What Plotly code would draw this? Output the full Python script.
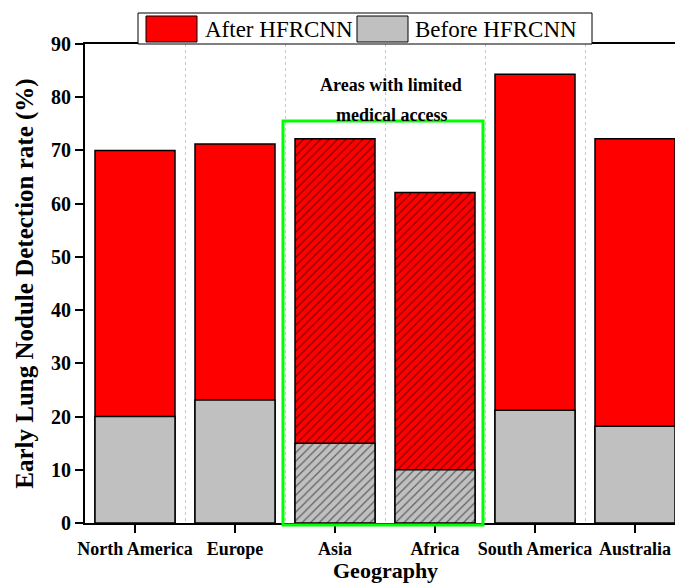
import plotly.graph_objects as go

categories = ["North America", "Europe", "Asia", "Africa", "South America", "Australia"]
after_vals = [70.0, 71.2, 72.2, 62.1, 84.3, 72.2]
before_vals = [20.0, 23.1, 15.0, 10.0, 21.2, 18.2]
hatch = ["", "", "/", "/", "", ""]
series_names = ["After HFRCNN", "Before HFRCNN"]
series_colors = ["#ff0000", "#c0c0c0"]
y_ticks = [0, 10, 20, 30, 40, 50, 60, 70, 80, 90]

W, H = 675, 585
ML, MR, MT, MB = 85, 0, 44, 62
PW, PH = W - ML - MR, H - MT - MB

def px_x(x):
    return (x - ML) / PW

def px_y(y):
    return (H - MB - y) / PH

xpos = list(range(len(categories)))
FONT = "Liberation Serif"

fig = go.Figure()
for name, vals, col in [(series_names[0], after_vals, series_colors[0]),
                        (series_names[1], before_vals, series_colors[1])]:
    fig.add_trace(go.Bar(
        x=xpos, y=vals, name=name, width=0.8,
        marker=dict(color=col, line=dict(color="black", width=1.5),
                    pattern=dict(shape=hatch, fgcolor="black", size=6, solidity=0.2)),
        showlegend=False,
    ))

shapes = []
annotations = []
# green highlight box
shapes.append(dict(type="rect", xref="paper", yref="paper",
                   x0=px_x(283), x1=px_x(483), y0=px_y(525), y1=px_y(121),
                   line=dict(color="#00ff00", width=3), fillcolor="rgba(0,0,0,0)", layer="above"))
annotations.append(dict(xref="paper", yref="paper", x=px_x(391), y=px_y(85), text="<b>Areas with limited</b>",
                        showarrow=False, xanchor="center", yanchor="middle",
                        font=dict(family=FONT, size=18, color="black")))
annotations.append(dict(xref="paper", yref="paper", x=px_x(391), y=px_y(115), text="<b>medical access</b>",
                        showarrow=False, xanchor="center", yanchor="middle",
                        font=dict(family=FONT, size=18, color="black")))

# x-axis title
annotations.append(dict(xref="paper", yref="paper", x=px_x(385), y=px_y(585), text="<b>Geography</b>",
                        showarrow=False, xanchor="center", yanchor="bottom",
                        font=dict(family=FONT, size=22, color="black")))

# custom legend
shapes.append(dict(type="rect", xref="paper", yref="paper",
                   x0=px_x(138), x1=px_x(592), y0=px_y(44), y1=px_y(13),
                   line=dict(color="black", width=1), fillcolor="white", layer="above"))
sw = [(146, 197), (357, 408)]
tx = [203, 413]
for i in range(2):
    shapes.append(dict(type="rect", xref="paper", yref="paper",
                       x0=px_x(sw[i][0]), x1=px_x(sw[i][1]), y0=px_y(42), y1=px_y(16),
                       line=dict(color="black", width=1), fillcolor=series_colors[i], layer="above"))
    annotations.append(dict(xref="paper", yref="paper", x=px_x(tx[i]), y=px_y(29), text=series_names[i],
                            showarrow=False, xanchor="left", yanchor="middle",
                            font=dict(family=FONT, size=23, color="black")))

fig.update_layout(
    width=W, height=H,
    margin=dict(l=ML, r=MR, t=MT, b=MB, pad=0),
    paper_bgcolor="white", plot_bgcolor="white",
    barmode="overlay",
    showlegend=False,
    font=dict(family=FONT, color="black"),
    shapes=shapes, annotations=annotations,
    xaxis=dict(
        range=[-0.5, 5.4], tickvals=xpos, ticktext=categories,
        tickfont=dict(family=FONT, size=18, weight="bold", color="black"),
        ticks="outside", ticklen=8, tickwidth=1.5, tickcolor="black",
        showline=True, linecolor="black", linewidth=2, mirror=True,
        showgrid=False, zeroline=False,
        minor=dict(tick0=0.5, dtick=1, showgrid=True, gridcolor="#c8c8c8",
                   griddash="dot", gridwidth=1, ticks=""),
    ),
    yaxis=dict(
        range=[0, 90], tickvals=y_ticks,
        tickfont=dict(family=FONT, size=20, weight="bold", color="black"),
        ticks="outside", ticklen=8, tickwidth=1.5, tickcolor="black",
        showline=True, linecolor="black", linewidth=2,
        showgrid=False, zeroline=False,
        title=dict(text="<b>Early Lung Nodule Detection rate (%)</b>",
                   font=dict(family=FONT, size=25, color="black"), standoff=10),
    ),
)

fig.write_html("out.html", config={"displayModeBar": False},
               post_script="document.body.style.margin='0';document.body.style.overflow='hidden';")
